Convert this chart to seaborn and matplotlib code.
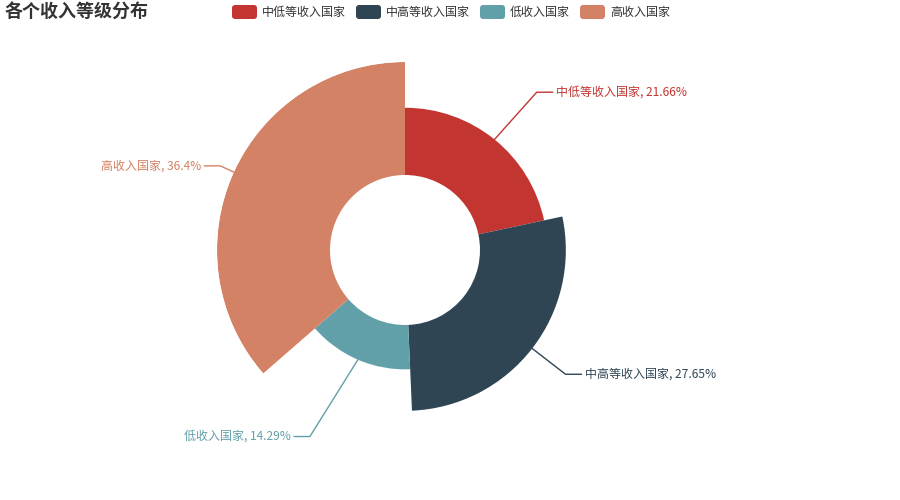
import numpy as np
import matplotlib
matplotlib.use('Agg')
import matplotlib.pyplot as plt
import seaborn as sns
from matplotlib.patches import FancyBboxPatch

# --- Data ---
categories = ['中低等收入国家', '中高等收入国家', '低收入国家', '高收入国家']
shares = [21.66, 27.65, 14.29, 36.4]
share_labels = ['21.66%', '27.65%', '14.29%', '36.4%']
colors = ['#c23531', '#2f4554', '#61a0a8', '#d48265']
title = '各个收入等级分布'

# --- Layout (pixels) ---
W, H = 900, 500
CX, CY = 405, 250
R_IN, R_OUT = 75, 188
R_LABEL = 203
PX = 0.72  # px -> pt at 100 dpi

sns.set_theme(style='white')
plt.rcParams['font.family'] = ['Noto Sans CJK SC', 'DejaVu Sans']

fig = plt.figure(figsize=(W / 100, H / 100), dpi=100)
fig.patch.set_facecolor('white')

# rose chart on polar axes, 1 radial unit == 1 pixel
ax = fig.add_axes([(CX - R_OUT) / W, (H - CY - R_OUT) / H, 2 * R_OUT / W, 2 * R_OUT / H],
                  projection='polar')
vals = np.array(shares)
widths = vals / vals.sum() * 2 * np.pi
starts = np.concatenate([[0], np.cumsum(widths)[:-1]])
heights = (R_OUT - R_IN) * vals / vals.max()
ax.bar(starts, heights, width=widths, bottom=R_IN, align='edge',
       color=colors, edgecolor='none', linewidth=0)
ax.set_theta_zero_location('N')
ax.set_theta_direction(-1)
ax.set_ylim(0, R_OUT)
ax.set_axis_off()

# overlay in pixel coordinates for labels, legend, title
ov = fig.add_axes([0, 0, 1, 1])
ov.set_xlim(0, W)
ov.set_ylim(H, 0)
ov.set_axis_off()
ov.patch.set_visible(False)

# label lines
label_nudge = {'低收入国家': -15, '中低等收入国家': 4}
for name, lab, col, st, wd, h in zip(categories, share_labels, colors, starts, widths, heights):
    mid = st + wd / 2
    dx, dy = np.sin(mid), -np.cos(mid)
    r = R_IN + h
    x0, y0 = CX + r * dx, CY + r * dy
    x1, y1 = CX + R_LABEL * dx + label_nudge.get(name, 0), CY + R_LABEL * dy
    side = 1 if dx > 0 else -1
    x2 = x1 + side * 16
    ov.plot([x0, x1, x2], [y0, y1, y1], color=col, lw=1)
    ov.text(x2 + side * 3, y1, f'{name}, {lab}', color=col, fontsize=12 * PX,
            ha='left' if side > 0 else 'right', va='center')

# legend
lx = 232
for name, col in zip(categories, colors):
    ov.add_patch(FancyBboxPatch((lx, 5), 25, 14, boxstyle='round,pad=0,rounding_size=3',
                                facecolor=col, edgecolor='none'))
    ov.text(lx + 30, 12, name, color='#333333', fontsize=12 * PX, ha='left', va='center')
    lx += 25 + 5 + len(name) * 12 + 10

# title
ov.text(5, 13, title, color='#333333', fontsize=18 * PX, fontweight='bold',
        ha='left', va='center')

fig.savefig('out.png', dpi=100)
